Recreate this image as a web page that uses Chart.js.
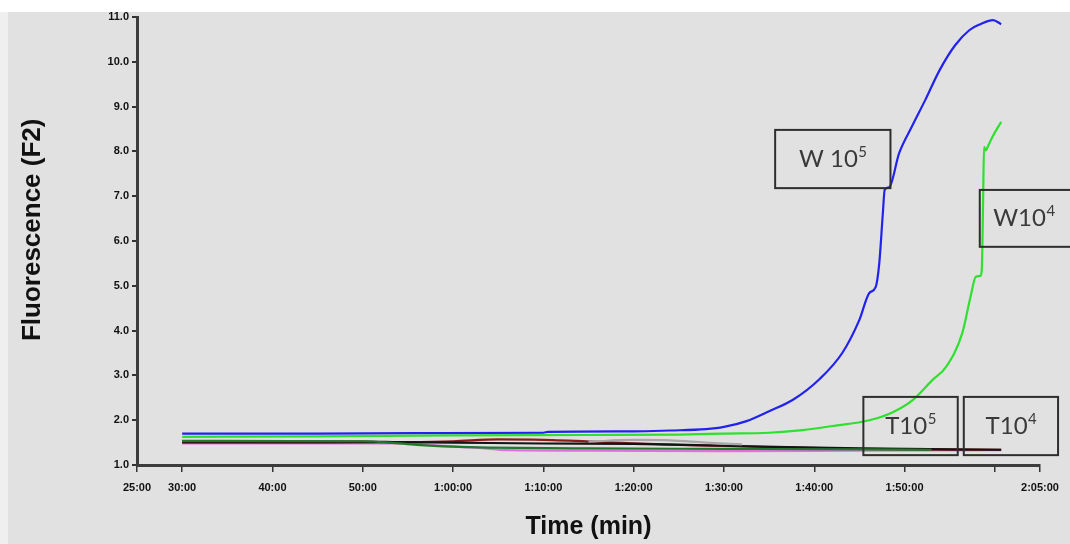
<!DOCTYPE html>
<html>
<head>
<meta charset="utf-8">
<script src="https://cdn.jsdelivr.net/npm/chart.js@4.4.1/dist/chart.umd.min.js"></script>
<style>
  html, body { margin: 0; padding: 0; background: #ffffff; }
  #wrap { position: relative; width: 1070px; height: 544px; overflow: hidden; }
  #edge { position: absolute; left: 0; top: 12px; width: 8px; bottom: 0; background: #efefef; }
  #panel { position: absolute; left: 8px; top: 12px; right: 0; bottom: 0; background: #e1e1e1; }
  #chart { position: absolute; left: 0; top: 0; }
</style>
</head>
<body>
<div id="wrap">
  <div id="edge"></div>
  <div id="panel"></div>
  <canvas id="chart" width="1070" height="544"></canvas>
</div>
<script>
/* =====================
   data (time in minutes)
===================== */
const xTickMinutes = [25, 30, 40, 50, 60, 70, 80, 90, 100, 110, 120, 125];
const xTickLabels = ['25:00', '30:00', '40:00', '50:00', '1:00:00', '1:10:00', '1:20:00',
                     '1:30:00', '1:40:00', '1:50:00', '', '2:05:00'];
const yTitle = 'Fluorescence (F2)';
const xTitle = 'Time (min)';

const blueTimes  = [30, 45, 56, 70, 70.5, 80, 84, 88, 90, 92.5, 95, 97.6, 100.6, 103.1, 105,
                    106.1, 106.8, 107.2, 107.6, 107.8, 108.3, 109.4, 110.8, 112.3, 113.9, 115.6,
                    117.2, 118.4, 119.8, 120.7];
const blueValues = [1.70, 1.70, 1.71, 1.72, 1.74, 1.75, 1.77, 1.80, 1.85, 1.98, 2.2, 2.45, 2.92, 3.5, 4.24,
                    4.84, 4.97, 5.5, 6.63, 7.14, 7.2, 7.96, 8.55, 9.15, 9.82, 10.37,
                    10.71, 10.84, 10.93, 10.84];

const greenTimes  = [30, 45, 60, 75, 85, 90, 95, 98.7, 102, 106.1, 108.7, 110.9, 113.1, 114.6, 116.4,
                     117.3, 117.9, 118.4, 118.55, 118.7, 118.8, 119.0, 119.2, 119.8, 120.7];
const greenValues = [1.63, 1.64, 1.66, 1.67, 1.68, 1.70, 1.72, 1.78, 1.87, 2.0, 2.18, 2.45, 2.9, 3.19, 3.95,
                     4.75, 5.2, 5.22, 5.35, 6.9, 8.1, 8.02, 8.1, 8.35, 8.66];

const blackTimes  = [30, 40, 50, 54, 60, 70, 80, 90, 97, 105, 120.7];
const blackValues = [1.52, 1.52, 1.52, 1.51, 1.50, 1.48, 1.47, 1.43, 1.40, 1.37, 1.34];

const redTimes  = [30, 45, 55, 60, 65, 70, 78, 85, 95, 105, 120.7];
const redValues = [1.50, 1.50, 1.51, 1.53, 1.57, 1.56, 1.50, 1.45, 1.40, 1.36, 1.34];

const pinkTimes  = [30, 45, 55, 58, 61, 63, 66, 75, 90, 105, 120.7];
const pinkValues = [1.48, 1.48, 1.48, 1.44, 1.40, 1.38, 1.33, 1.32, 1.31, 1.32, 1.33];

const dkGreenTimes  = [30, 50, 53, 56, 60, 64, 75, 90, 105, 113];
const dkGreenValues = [1.54, 1.53, 1.50, 1.45, 1.41, 1.39, 1.37, 1.36, 1.35, 1.34];

const grayTimes  = [75, 80, 84, 88, 92];
const grayValues = [1.52, 1.56, 1.55, 1.50, 1.46];

// label boxes: [left min, right min, top value, bottom value]
const boxTexts = ['W 10', 'W10', 'T10', 'T10'];
const boxSups  = ['5', '4', '5', '4'];
const boxAreas = [
    [95.67, 108.44, 8.48, 7.18],
    [118.33, 128.6, 7.14, 5.87],
    [105.44, 115.89, 2.52, 1.22],
    [116.56, 127.0, 2.52, 1.22]
];

function pts(t, v) {
    return t.map((x, i) => ({ x: x, y: v[i] }));
}

function line(label, t, v, color) {
    return {
        label: label,
        data: pts(t, v),
        borderColor: color,
        borderWidth: 2.2,
        pointRadius: 0,
        fill: false,
        cubicInterpolationMode: 'monotone'
    };
}

/* =====================
   annotation boxes + y title
===================== */
const boxPlugin = {
    id: 'boxes',
    afterDatasetsDraw(chart) {
        const ctx = chart.ctx;
        const xs = chart.scales.x, ys = chart.scales.y;
        const area = chart.chartArea;
        ctx.save();

        // y axis title, a little above centre like the original
        ctx.translate(33, area.top + (area.bottom - area.top) * 0.475);
        ctx.rotate(-Math.PI / 2);
        ctx.font = 'bold 26px Arial, "Liberation Sans", sans-serif';
        ctx.fillStyle = '#111';
        ctx.textAlign = 'center';
        ctx.textBaseline = 'middle';
        ctx.fillText(yTitle, 0, 0);
        ctx.setTransform(1, 0, 0, 1, 0, 0);

        boxAreas.forEach((b, i) => {
            const l = xs.getPixelForValue(b[0]);
            const r = xs.getPixelForValue(b[1]);
            const t = ys.getPixelForValue(b[2]);
            const btm = ys.getPixelForValue(b[3]);
            ctx.strokeStyle = '#2e2e2e';
            ctx.lineWidth = 2;
            ctx.strokeRect(l, t, r - l, btm - t);

            ctx.fillStyle = '#3a3a3a';
            ctx.textBaseline = 'alphabetic';
            ctx.textAlign = 'left';
            ctx.font = '24px Lato, "Open Sans", sans-serif';
            const mainW = ctx.measureText(boxTexts[i]).width;
            ctx.font = '15px Lato, "Open Sans", sans-serif';
            const supW = ctx.measureText(boxSups[i]).width;
            const boxW = Math.min(r, 1068) - l;
            const x0 = l + (boxW - mainW - supW) / 2;
            const base = (t + btm) / 2 + 8;
            ctx.font = '24px Lato, "Open Sans", sans-serif';
            ctx.fillText(boxTexts[i], x0, base);
            ctx.font = '15px Lato, "Open Sans", sans-serif';
            ctx.fillText(boxSups[i], x0 + mainW + 0.5, base - 10);
        });
        ctx.restore();
    }
};

/* =====================
   chart
===================== */
const tickFont = { family: 'Arial, "Liberation Sans", sans-serif', size: 11, weight: 'bold' };
const titleFont = { family: 'Arial, "Liberation Sans", sans-serif', size: 25, weight: 'bold' };

new Chart(document.getElementById('chart'), {
    type: 'line',
    data: {
        datasets: [
            line('T10^4 b', dkGreenTimes, dkGreenValues, '#1f7a2a'),
            line('control', grayTimes, grayValues, '#a8a8a8'),
            line('T10^5 a', blackTimes, blackValues, '#141414'),
            line('T10^5 b', redTimes, redValues, '#8a1c1c'),
            line('T10^4 a', pinkTimes, pinkValues, '#e070e0'),
            line('W10^4', greenTimes, greenValues, '#2fe02f'),
            line('W10^5', blueTimes, blueValues, '#2222ee')
        ]
    },
    options: {
        responsive: false,
        animation: false,
        events: [],
        layout: { padding: { left: 0, top: 17, right: 30, bottom: 0 } },
        plugins: {
            legend: { display: false },
            tooltip: { enabled: false }
        },
        scales: {
            x: {
                type: 'linear',
                min: 25,
                max: 125,
                afterBuildTicks: scale => {
                    scale.ticks = xTickMinutes.map(v => ({ value: v }));
                },
                afterFit: scale => { scale.height = 79; },
                ticks: {
                    autoSkip: false,
                    maxRotation: 0,
                    padding: 9,
                    color: '#111',
                    font: tickFont,
                    callback: (value, index) => xTickLabels[index]
                },
                grid: {
                    drawOnChartArea: false,
                    drawTicks: true,
                    tickLength: 7,
                    color: '#333',
                    lineWidth: 1.5
                },
                border: { color: '#3c3c3c', width: 3 },
                title: {
                    display: true,
                    text: xTitle,
                    color: '#111',
                    font: titleFont,
                    padding: { top: 0, bottom: 2 }
                }
            },
            y: {
                min: 1,
                max: 11,
                afterFit: scale => { scale.width = 137; },
                ticks: {
                    stepSize: 1,
                    padding: 3,
                    color: '#111',
                    font: tickFont,
                    callback: value => value.toFixed(1)
                },
                grid: {
                    drawOnChartArea: false,
                    drawTicks: true,
                    tickLength: 5,
                    color: '#333',
                    lineWidth: 2
                },
                border: { color: '#3c3c3c', width: 3 }
            }
        }
    },
    plugins: [boxPlugin]
});
</script>
</body>
</html>
